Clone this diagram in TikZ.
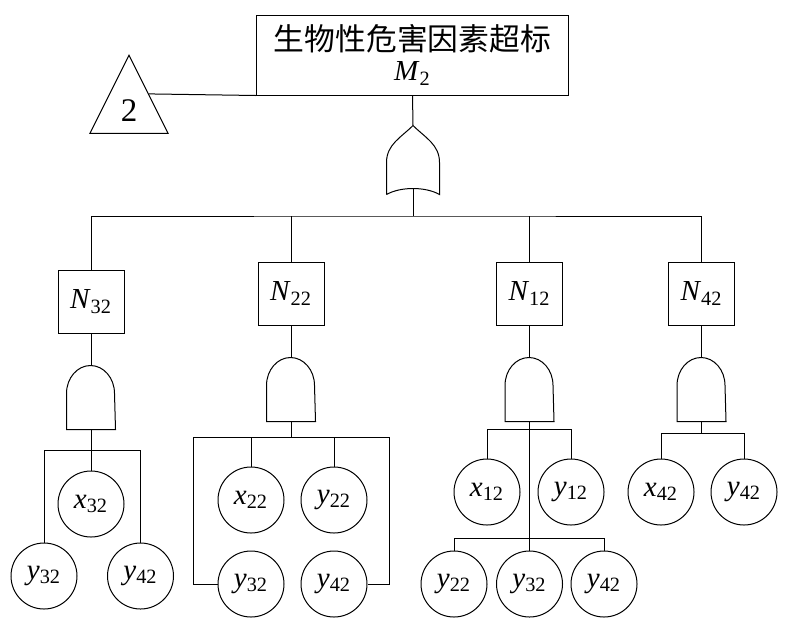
\documentclass[tikz,border=0pt]{standalone}
\usepackage{fontspec}
\setmainfont{Liberation Serif}
\newfontfamily\cjk{Noto Sans CJK SC}
\usetikzlibrary{shapes.geometric}
\newcommand\vname[2]{\textit{#1}\textsubscript{#2}}

\tikzstyle{topevent} = [rectangle, minimum width=156pt, minimum height=40pt, align=center, inner sep=0pt, draw=black, font=\fontsize{15.4}{15}\selectfont]
\tikzstyle{event} = [rectangle, minimum width=33pt, minimum height=31.5pt, text centered, draw=black, font=\fontsize{14.5}{16}\selectfont]
\tikzstyle{basic} = [circle, minimum size=33pt, inner sep=0pt, draw=black, font=\fontsize{14.5}{16}\selectfont]
\tikzstyle{transfer} = [isosceles triangle, isosceles triangle stretches, shape border rotate=90, minimum width=39pt, minimum height=39pt, inner sep=0pt, draw=black, font=\fontsize{16.5}{19}\selectfont]
\tikzstyle{gate} = [minimum width=24pt, minimum height=32pt, inner sep=0pt]

\begin{document}
\begin{tikzpicture}[x=0.5pt, y=0.5pt, line width=0.5pt]
\useasboundingbox (0,0) rectangle (790,-638);

% Nodes
\node (top) [topevent] at (412.5,-55) {{\cjk 生物性危害因素超标}\\{\fontsize{14.5}{16}\selectfont\vname{M}{2}}};
\node (tri) [transfer, anchor=apex] at (129,-54) {2};
\node (org) [gate, minimum width=26pt, minimum height=34pt] at (413,-160) {};

\node (n32) [event] at (91,-301.5) {\vname{N}{32}};
\node (n22) [event] at (291,-293.5) {\vname{N}{22}};
\node (n12) [event] at (529.5,-293.5) {\vname{N}{12}};
\node (n42) [event] at (701.5,-293.5) {\vname{N}{42}};

\node (a32) [gate] at (91,-397) {};
\node (a22) [gate] at (291,-389) {};
\node (a12) [gate] at (529.5,-389) {};
\node (a42) [gate] at (701.5,-389) {};

\node (x32) [basic] at (91,-504) {\vname{x}{32}};
\node (y32a) [basic] at (44,-576) {\vname{y}{32}};
\node (y42a) [basic] at (140.5,-576) {\vname{y}{42}};

\node (x22) [basic] at (251,-500) {\vname{x}{22}};
\node (y22) [basic] at (334,-500) {\vname{y}{22}};
\node (y32b) [basic] at (251,-584) {\vname{y}{32}};
\node (y42b) [basic] at (334,-584) {\vname{y}{42}};

\node (x12) [basic] at (487,-492) {\vname{x}{12}};
\node (y12) [basic] at (571,-492) {\vname{y}{12}};
\node (y22c) [basic] at (454,-584) {\vname{y}{22}};
\node (y32c) [basic] at (529.5,-584) {\vname{y}{32}};
\node (y42c) [basic] at (604,-584) {\vname{y}{42}};

\node (x42) [basic] at (661,-492) {\vname{x}{42}};
\node (y42d) [basic] at (744,-492) {\vname{y}{42}};

% Gates
\draw (org.south west) -- ++(0,16pt) .. controls +(0,9pt) and +(-6pt,-6pt) .. (org.north) .. controls +(6pt,-6pt) and +(0,9pt) .. ([yshift=16pt]org.south east) -- (org.south east) .. controls +(-7pt,4pt) and +(7pt,4pt) .. (org.south west);
\foreach \g in {a32,a22,a12,a42}
  \draw (\g.south west) -- ++(0,18pt) arc[start angle=180, end angle=0, x radius=12pt, y radius=14pt] -- (\g.south east) -- cycle;

% Lines
\coordinate (bar) at (413,-216);
\draw (tri.right side) -- (top.south west);
\draw (top.south) -- (org.north);
\draw ([yshift=3pt]org.south) -- (bar);
\draw (n32.north) |- (bar) -| (n42.north);
\draw (n22.north) -- (n22.north |- bar);
\draw (n12.north) -- (n12.north |- bar);
\foreach \n/\g in {n32/a32, n22/a22, n12/a12, n42/a42}
  \draw (\n.south) -- (\g.north);

\coordinate (b32) at (91,-450);
\draw (a32.south) -- (x32.north);
\draw (y32a.north) |- (b32) -| (y42a.north);

\coordinate (b22) at (291,-437);
\coordinate (l22) at (193,-437);
\coordinate (r22) at (389,-437);
\draw (a22.south) -- (b22);
\draw (x22.north) |- (b22) -| (y22.north);
\draw (y32b.west) -| (l22) -- (r22) |- (y42b.east);

\coordinate (b12) at (529.5,-429);
\coordinate (c12) at (529.5,-538);
\draw (a12.south) -- (y32c.north);
\draw (x12.north) |- (b12) -| (y12.north);
\draw (y22c.north) |- (c12) -| (y42c.north);

\coordinate (b42) at (701.5,-433);
\draw (a42.south) -- (b42);
\draw (x42.north) |- (b42) -| (y42d.north);

\end{tikzpicture}
\end{document}
